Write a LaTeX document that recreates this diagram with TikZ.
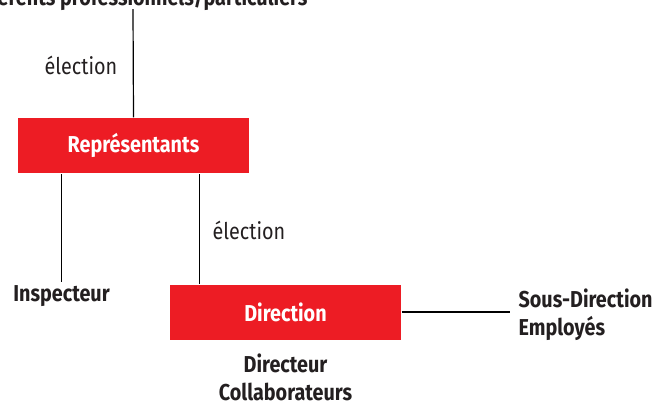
\documentclass[tikz,border=0pt]{standalone}
\usepackage{fontspec}
\setmainfont{Fira Sans}[FakeStretch=0.86]
\usepackage{tikz}
\usetikzlibrary{positioning}
\definecolor{boxred}{HTML}{ED1C24}
\definecolor{linegray}{HTML}{231F20}

\begin{document}
\begin{tikzpicture}[x=1pt, y=-1pt, line width=1.2pt,
    every node/.style={font=\fontsize{23}{28}\selectfont, text=linegray},
    orgbox/.style={rectangle, fill=boxred, text=white, font=\fontsize{23}{28}\selectfont\bfseries, minimum width=231pt, minimum height=55pt},
    role/.style={font=\fontsize{23}{28}\selectfont\bfseries, align=center}]

        \useasboundingbox (0,0) rectangle (656,405);

        %Nodes
        \node   (rep) [orgbox] at (133.5,145.5) {Représentants};
        \node   (dir) [orgbox] at (285.5,312) {Direction};
        \node   (top) [role, anchor=base east, inner sep=1pt] at (309,5) {Adhérents professionnels/particuliers};
        \coordinate (topend) at (133,9);
        \node   (elec1) at (81,65) {élection};
        \node   (elec2) at (249,230) {élection};
        \node   (insp) [role] at (61.5,296) {Inspecteur};
        \node   (sub) [role, align=left, anchor=west, inner sep=8pt] at (510,315) {Sous-Direction\\Employés};
        \node   (staff) [role, below=11pt of dir, inner sep=2pt] {Directeur\\Collaborateurs};

        %Lines
        \draw[-] (topend) -- (rep.north);
        \draw[-] (insp.north) -- (insp.north |- rep.south);
        \draw[-] ([xshift=30pt]dir.north west) -- ([xshift=30pt]dir.north west |- rep.south);
        \draw[-] (dir.east) -- (dir.east -| sub.west);

\end{tikzpicture}
\end{document}
